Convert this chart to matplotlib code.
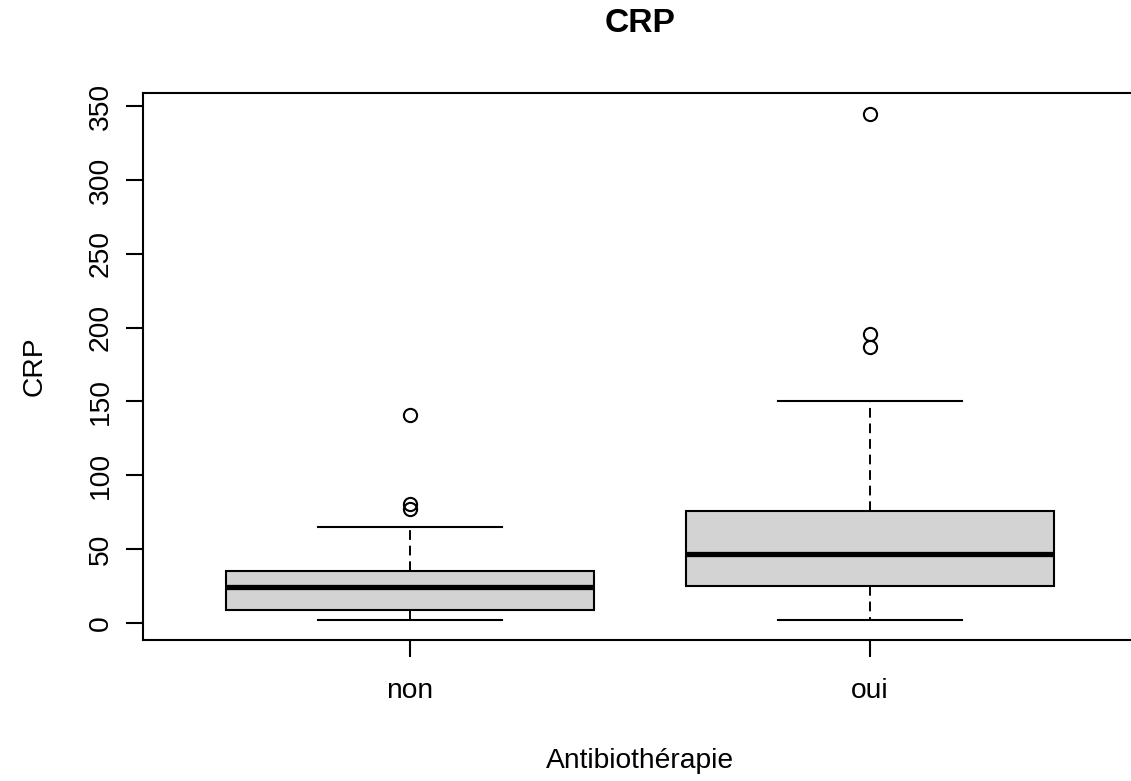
import matplotlib
matplotlib.use("Agg")
import matplotlib.pyplot as plt

plt.rcParams["font.family"] = ["Liberation Sans", "DejaVu Sans"]

groupes = ["non", "oui"]
whisker_bas = [2.0, 2.0]
q1 = [8.5, 25.0]
mediane = [24.0, 46.5]
q3 = [35.2, 75.5]
whisker_haut = [65.0, 150.0]
outliers = [[140.8, 80.6, 77.2], [344.6, 195.7, 186.9]]

stats = []
for i, nom in enumerate(groupes):
    stats.append({
        "label": nom,
        "whislo": whisker_bas[i],
        "q1": q1[i],
        "med": mediane[i],
        "q3": q3[i],
        "whishi": whisker_haut[i],
        "fliers": outliers[i],
    })

fig = plt.figure(figsize=(11.31, 7.81), dpi=100)
ax = fig.add_axes([143 / 1131, 1 - 640 / 781, (1137 - 143) / 1131, (640 - 93.3) / 781])

ax.bxp(
    stats,
    positions=[1, 2],
    widths=0.8,
    patch_artist=True,
    boxprops=dict(facecolor="#D3D3D3", edgecolor="black", linewidth=1.5),
    medianprops=dict(color="black", linewidth=3.8, solid_capstyle="butt"),
    whiskerprops=dict(color="black", linewidth=1.4, linestyle=(0, (5, 3))),
    capprops=dict(color="black", linewidth=1.5),
    capwidths=0.4,
    flierprops=dict(marker="o", markerfacecolor="none", markeredgecolor="black",
                    markersize=9.5, markeredgewidth=1.5),
)

ax.set_xlim(0.42, 2.58)
ax.set_ylim(-11.7, 358.7)
ax.set_yticks(range(0, 351, 50))
ax.set_xticks([1, 2])
ax.set_xticklabels(groupes)

for s in ax.spines.values():
    s.set_linewidth(1.5)

ax.tick_params(axis="both", length=12, width=1.5, labelsize=20.3, color="black")
ax.tick_params(axis="x", pad=15)
ax.tick_params(axis="y", pad=9)
for lab in ax.get_yticklabels():
    lab.set_rotation(90)
    lab.set_va("center")

ax.set_xlabel("Antibiothérapie", fontsize=20.3, labelpad=32)
ax.set_ylabel("CRP", fontsize=20.3, labelpad=29)
fig.text(0.5659, 1 - 24 / 781, "CRP", fontsize=24.2, fontweight="bold", ha="center", va="center")

fig.savefig("out.png", dpi=100)
